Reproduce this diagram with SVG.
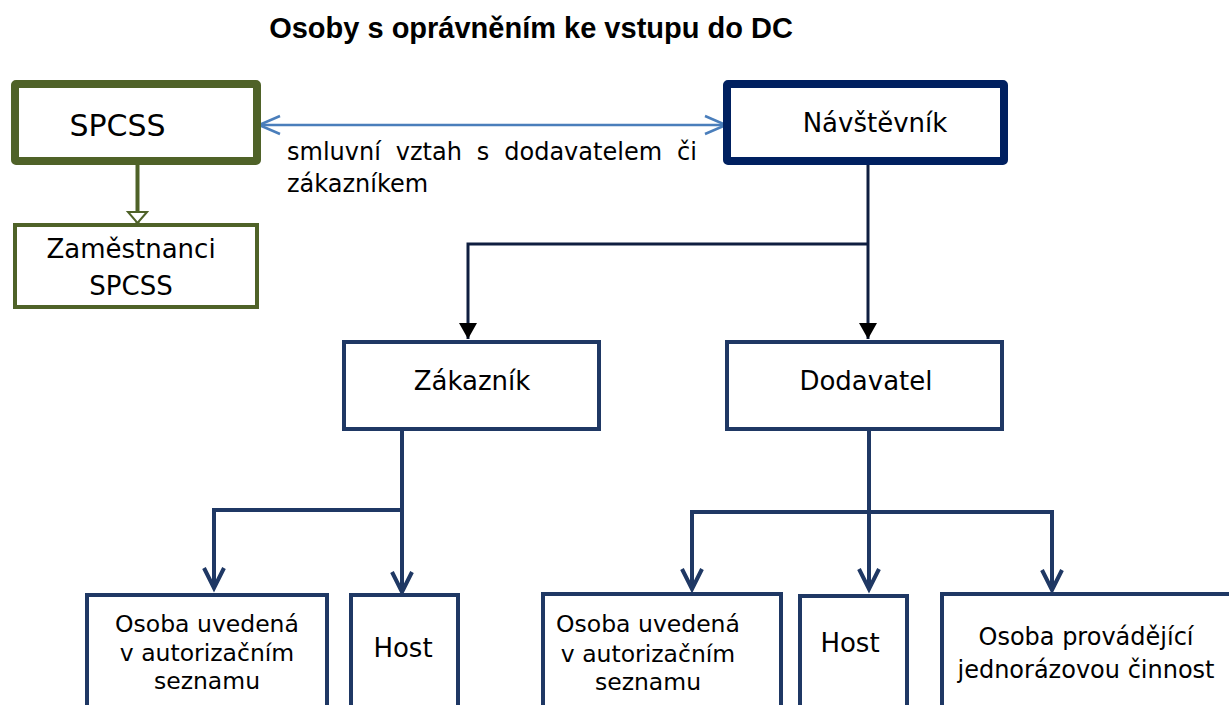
<svg xmlns="http://www.w3.org/2000/svg" width="1229" height="705" viewBox="0 0 1229 705">
<style>
text{font-family:"DejaVu Sans","Verdana",sans-serif;fill:#000;text-anchor:middle}
.title{font-family:"Liberation Sans",Arial,sans-serif;font-weight:bold;font-size:29px}
.green{fill:#fff;stroke:#4f6228}
.navy{fill:#fff;stroke:#002060;stroke-width:8}
.box{fill:#fff;stroke:#1f3864;stroke-width:4}
.c{fill:none;stroke:#1f3864;stroke-width:4}
.cd{fill:none;stroke:#0f1e40;stroke-width:3}
.cb{fill:none;stroke:#4a7ebb;stroke-width:2.5}
.cg{fill:none;stroke:#4f6228;stroke-width:4}
</style>
<defs>
<marker id="chev" markerUnits="userSpaceOnUse" markerWidth="30" markerHeight="30" refX="20" refY="10" orient="auto" overflow="visible">
<path d="M0,0 L20,10 L0,20" fill="none" stroke="#1f3864" stroke-width="4"/>
</marker>
<marker id="chevb" markerUnits="userSpaceOnUse" markerWidth="30" markerHeight="30" refX="21" refY="9" orient="auto-start-reverse" overflow="visible">
<path d="M0,0 L21,9 L0,18" fill="none" stroke="#4a7ebb" stroke-width="2.5"/>
</marker>
<marker id="tri" markerUnits="userSpaceOnUse" markerWidth="30" markerHeight="30" refX="16" refY="9" orient="auto" overflow="visible">
<path d="M0,0 L16,9 L0,18 Z" fill="#000"/>
</marker>
<marker id="htri" markerUnits="userSpaceOnUse" markerWidth="30" markerHeight="30" refX="11" refY="9.5" orient="auto" overflow="visible">
<path d="M0,0 L11,9.5 L0,19 Z" fill="#fff" stroke="#4f6228" stroke-width="2"/>
</marker>
</defs>
<rect width="1229" height="705" fill="#fff"/>
<text class="title" x="531" y="38">Osoby s oprávněním ke vstupu do DC</text>

<g id="connectors">
<path class="cb" d="M259,125 L726,125" marker-start="url(#chevb)" marker-end="url(#chevb)"/>
<path class="cg" d="M137.5,165 L137.5,223" marker-end="url(#htri)"/>
<path class="cd" d="M868,165 L868,339" marker-end="url(#tri)"/>
<path class="cd" d="M868,244 L468,244 L468,339" marker-end="url(#tri)"/>
<path class="c" d="M402,431 L402,592" marker-end="url(#chev)"/>
<path class="c" d="M402,510 L214,510 L214,588" marker-end="url(#chev)"/>
<path class="c" d="M869,431 L869,589" marker-end="url(#chev)"/>
<path class="c" d="M869,512 L692,512 L692,589" marker-end="url(#chev)"/>
<path class="c" d="M869,512 L1052,512 L1052,590" marker-end="url(#chev)"/>
<text x="287" y="160" font-size="24" word-spacing="7.3" style="text-anchor:start">smluvní vztah s dodavatelem či</text>
<text x="287" y="192" font-size="24" style="text-anchor:start">zákazníkem</text>
</g>

<g id="spcss">
<rect class="green" x="15" y="84" width="242" height="77" stroke-width="8" rx="1"/>
<text x="117.5" y="136" font-size="30">SPCSS</text>
</g>
<g id="zamestnanci">
<rect class="green" x="15" y="225" width="242" height="82" stroke-width="4"/>
<text x="131" y="258" font-size="26">Zaměstnanci</text>
<text x="131" y="295" font-size="26">SPCSS</text>
</g>
<g id="navstevnik">
<rect class="navy" x="727" y="84" width="277" height="77" rx="1"/>
<text x="875" y="132" font-size="26">Návštěvník</text>
</g>
<g id="zakaznik">
<rect class="box" x="344" y="342" width="255" height="87"/>
<text x="472" y="390" font-size="26">Zákazník</text>
</g>
<g id="dodavatel">
<rect class="box" x="727" y="342" width="275" height="87"/>
<text x="866" y="390" font-size="26">Dodavatel</text>
</g>
<g id="osoba-zak">
<rect class="box" x="87" y="595" width="240" height="130"/>
<text x="207" y="632" font-size="23.5">Osoba uvedená</text>
<text x="207" y="661" font-size="23.5">v autorizačním</text>
<text x="207" y="689" font-size="23.5">seznamu</text>
</g>
<g id="host-zak">
<rect class="box" x="351" y="595" width="107" height="130"/>
<text x="403" y="657" font-size="26">Host</text>
</g>
<g id="osoba-dod">
<rect class="box" x="543" y="594" width="238" height="130"/>
<text x="648" y="632" font-size="23.5">Osoba uvedená</text>
<text x="648" y="662" font-size="23.5">v autorizačním</text>
<text x="648" y="690" font-size="23.5">seznamu</text>
</g>
<g id="host-dod">
<rect class="box" x="800" y="596" width="107" height="130"/>
<text x="850" y="652" font-size="26">Host</text>
</g>
<g id="osoba-jednorazova">
<rect class="box" x="942" y="594" width="310" height="130"/>
<text x="1086" y="645" font-size="24">Osoba provádějící</text>
<text x="1086" y="678" font-size="24">jednorázovou činnost</text>
</g>
</svg>
